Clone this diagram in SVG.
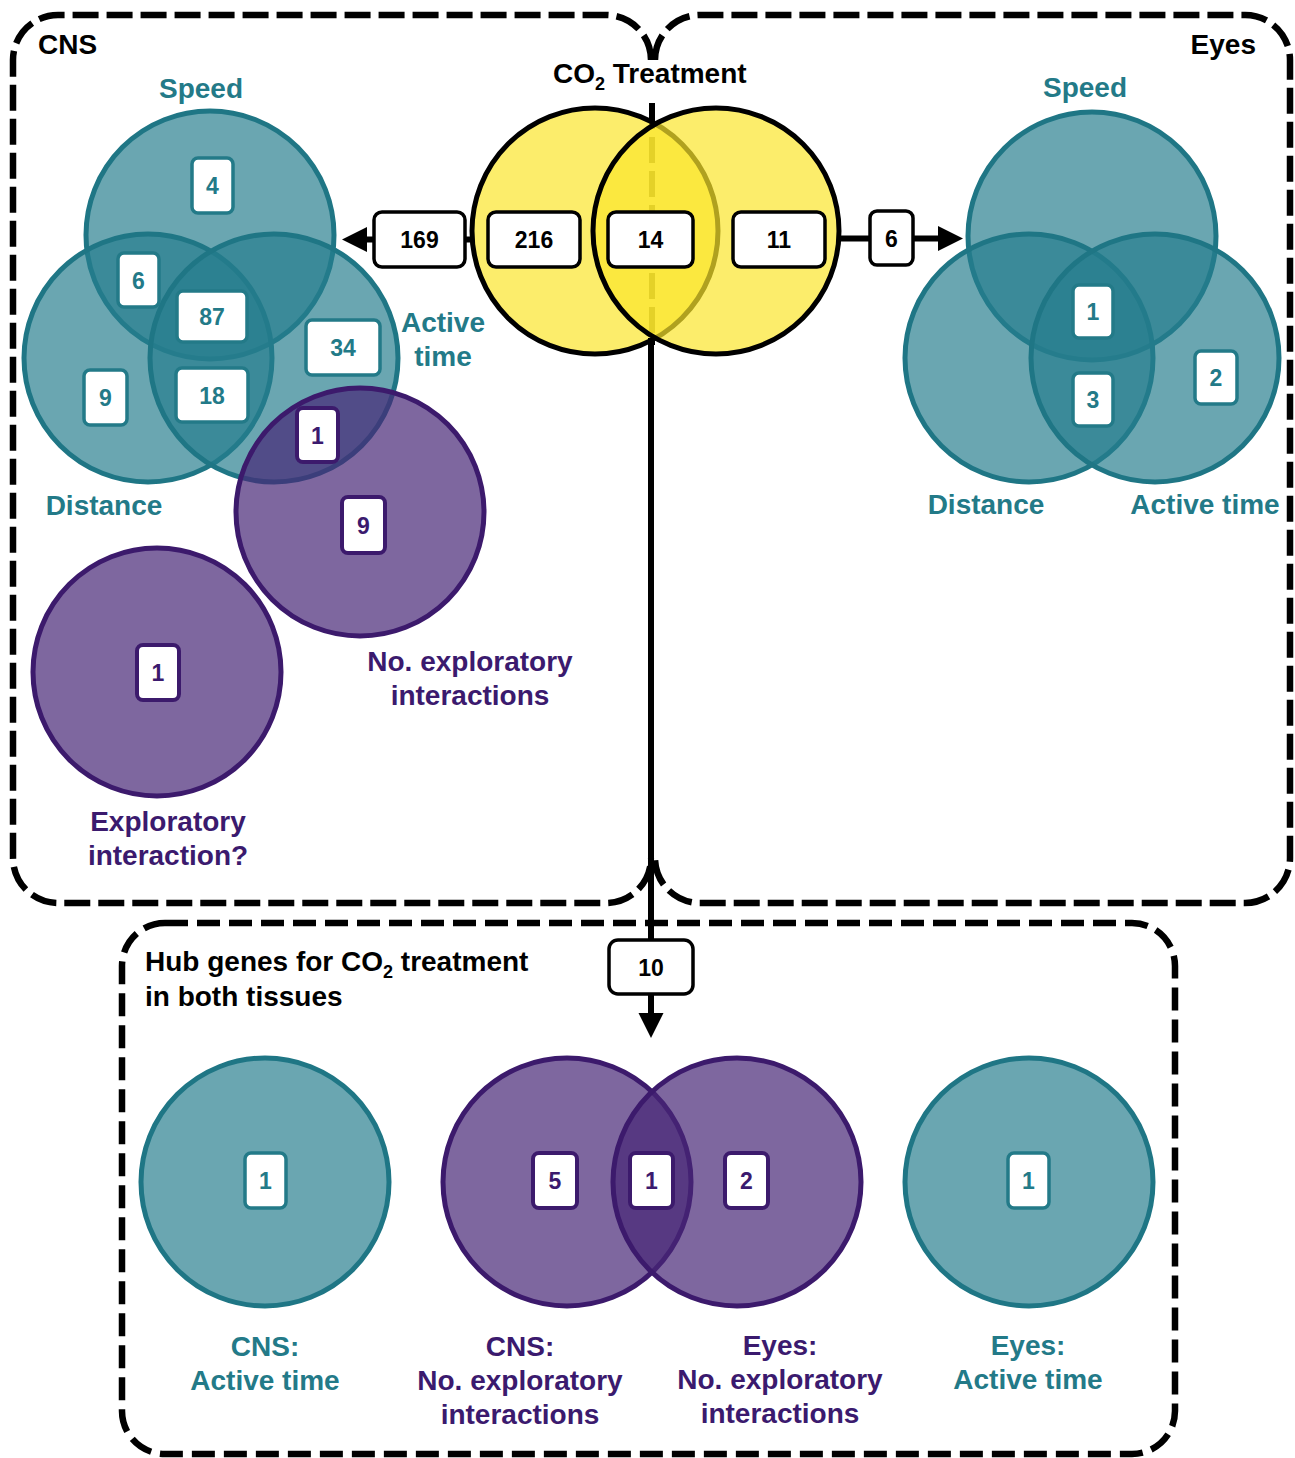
<svg xmlns="http://www.w3.org/2000/svg" width="1295" height="1458" viewBox="0 0 1295 1458">
<defs>
<style>
text{font-family:"Liberation Sans",Arial,sans-serif;font-weight:bold}
.ttl{font-size:28px;fill:#000}
.lt{font-size:28px;fill:#237a88;text-anchor:middle}
.lp{font-size:28px;fill:#3b1a6e;text-anchor:middle}
.frame{fill:none;stroke:#000;stroke-width:6.5;stroke-dasharray:26 8}
.hub{fill:none;stroke:#000;stroke-width:6.5;stroke-dasharray:23 9}
.ct{fill:#267d8d;fill-opacity:0.685;stroke:#1f7685;stroke-width:5}
.cp{fill:#472776;fill-opacity:0.7;stroke:#3c1a6c;stroke-width:5}
.cy{fill:#fbe52c;fill-opacity:0.7;stroke:#000;stroke-width:5}
.bt{fill:#fff;stroke:#237a88;stroke-width:3.5}
.bp{fill:#fff;stroke:#3c1a6c;stroke-width:4}
.bk{fill:#fff;stroke:#000;stroke-width:3.5}
.nt{font-size:23px;fill:#237a88;text-anchor:middle}
.np{font-size:23px;fill:#3b1a6e;text-anchor:middle}
.nk{font-size:23px;fill:#000;text-anchor:middle}
.conn{stroke:#000;stroke-width:6;fill:none}
</style>
<marker id="ah" markerUnits="userSpaceOnUse" markerWidth="26" markerHeight="26" refX="0" refY="12.5" orient="auto">
<path d="M0,0 L25,12.5 L0,25 z" fill="#000"/>
</marker>
</defs>

<!-- frames -->
<g id="frame-cns">
<path class="frame" d="M651 60 A45 45 0 0 0 606 15 L58 15 A45 45 0 0 0 13 60 L13 858 A45 45 0 0 0 58 903 L606 903 A45 45 0 0 0 651 858"/>
<text class="ttl" x="38" y="54">CNS</text>
</g>
<g id="frame-eyes">
<path class="frame" d="M655 60 A45 45 0 0 1 700 15 L1245 15 A45 45 0 0 1 1290 60 L1290 858 A45 45 0 0 1 1245 903 L700 903 A45 45 0 0 1 655 858"/>
<text class="ttl" x="1256" y="54" text-anchor="end">Eyes</text>
</g>
<g id="frame-hub">
<rect class="hub" x="122" y="923" width="1053" height="531" rx="43" ry="43"/>
<text class="ttl" x="145" y="971">Hub genes for CO<tspan font-size="18" dy="7">2</tspan><tspan dy="-7"> treatment</tspan></text>
<text class="ttl" x="145" y="1006">in both tissues</text>
</g>

<line x1="652" y1="103" x2="652" y2="345" stroke="#000" stroke-width="6" stroke-dasharray="26 8"/>

<!-- CO2 treatment Venn -->
<g id="co2-venn">
<text class="ttl" x="553" y="83">CO<tspan font-size="18" dy="7">2</tspan><tspan dy="-7"> Treatment</tspan></text>
<circle class="cy" cx="595" cy="231" r="123"/>
<circle class="cy" cx="716" cy="231" r="123"/>
</g>

<!-- connectors -->
<g id="connectors">
<line class="conn" x1="471" y1="239.5" x2="367" y2="239.5" marker-end="url(#ah)"/>
<line class="conn" x1="838" y1="238.5" x2="938" y2="238.5" marker-end="url(#ah)"/>
<line class="conn" x1="651" y1="338" x2="651" y2="1013" marker-end="url(#ah)"/>
</g>

<g id="co2-boxes">
<rect class="bk" x="374" y="212" width="91" height="55" rx="8"/><text class="nk" x="419.5" y="248">169</text>
<rect class="bk" x="488" y="212" width="92" height="55" rx="8"/><text class="nk" x="534" y="248">216</text>
<rect class="bk" x="608" y="212" width="85" height="55" rx="8"/><text class="nk" x="650.5" y="248">14</text>
<rect class="bk" x="733" y="212" width="92" height="55" rx="8"/><text class="nk" x="779" y="248">11</text>
<rect class="bk" x="870" y="211" width="43" height="54" rx="7"/><text class="nk" x="891.5" y="246.5">6</text>
<rect class="bk" x="609" y="940" width="84" height="54" rx="9"/><text class="nk" x="651" y="975.5">10</text>
</g>

<!-- CNS Venn -->
<g id="cns-venn">
<text class="lt" x="201" y="98">Speed</text>
<text class="lt" x="443" y="332">Active</text>
<text class="lt" x="443" y="366">time</text>
<text class="lt" x="104" y="515">Distance</text>
<circle class="ct" cx="210" cy="235" r="124"/>
<circle class="ct" cx="148" cy="358" r="124"/>
<circle class="ct" cx="274" cy="358" r="124"/>
</g>
<g id="cns-explore">
<circle class="cp" cx="360" cy="512" r="124"/>
<circle class="cp" cx="157" cy="672" r="124"/>
<text class="lp" x="470" y="671">No. exploratory</text>
<text class="lp" x="470" y="705">interactions</text>
<text class="lp" x="168" y="831">Exploratory</text>
<text class="lp" x="168" y="865">interaction?</text>
</g>
<g id="cns-boxes">
<rect class="bt" x="192" y="158" width="41" height="55" rx="6"/><text class="nt" x="212.5" y="194">4</text>
<rect class="bt" x="118" y="253" width="41" height="54" rx="6"/><text class="nt" x="138.5" y="288.5">6</text>
<rect class="bt" x="177" y="291" width="70" height="51" rx="6"/><text class="nt" x="212" y="325">87</text>
<rect class="bt" x="306" y="320" width="74" height="55" rx="6"/><text class="nt" x="343" y="356">34</text>
<rect class="bt" x="84" y="370" width="43" height="55" rx="6"/><text class="nt" x="105.5" y="406">9</text>
<rect class="bt" x="176" y="368" width="72" height="54" rx="6"/><text class="nt" x="212" y="403.5">18</text>
<rect class="bp" x="297" y="408" width="41" height="54" rx="6"/><text class="np" x="317.5" y="443.5">1</text>
<rect class="bp" x="342" y="497" width="43" height="56" rx="6"/><text class="np" x="363.5" y="533.5">9</text>
<rect class="bp" x="137" y="645" width="42" height="55" rx="6"/><text class="np" x="158" y="681">1</text>
</g>

<!-- Eyes Venn -->
<g id="eyes-venn">
<text class="lt" x="1085" y="97">Speed</text>
<text class="lt" x="986" y="514">Distance</text>
<text class="lt" x="1205" y="514">Active time</text>
<circle class="ct" cx="1092" cy="236" r="124"/>
<circle class="ct" cx="1029" cy="358" r="124"/>
<circle class="ct" cx="1155" cy="358" r="124"/>
<rect class="bt" x="1073" y="285" width="40" height="53" rx="6"/><text class="nt" x="1093" y="320">1</text>
<rect class="bt" x="1073" y="373" width="40" height="53" rx="6"/><text class="nt" x="1093" y="408">3</text>
<rect class="bt" x="1195" y="351" width="42" height="53" rx="6"/><text class="nt" x="1216" y="386">2</text>
</g>

<!-- Hub circles -->
<g id="hub-cns-active">
<circle class="ct" cx="265" cy="1182" r="124"/>
<rect class="bt" x="245" y="1153" width="41" height="55" rx="6"/><text class="nt" x="265.5" y="1189">1</text>
<text class="lt" x="265" y="1356">CNS:</text>
<text class="lt" x="265" y="1390">Active time</text>
</g>
<g id="hub-explore">
<circle class="cp" cx="567" cy="1182" r="124"/>
<circle class="cp" cx="737" cy="1182" r="124"/>
<rect class="bp" x="533" y="1153" width="44" height="55" rx="6"/><text class="np" x="555" y="1189">5</text>
<rect class="bp" x="630" y="1153" width="43" height="55" rx="6"/><text class="np" x="651.5" y="1189">1</text>
<rect class="bp" x="725" y="1153" width="43" height="55" rx="6"/><text class="np" x="746.5" y="1189">2</text>
<text class="lp" x="520" y="1356">CNS:</text>
<text class="lp" x="520" y="1390">No. exploratory</text>
<text class="lp" x="520" y="1424">interactions</text>
<text class="lp" x="780" y="1355">Eyes:</text>
<text class="lp" x="780" y="1389">No. exploratory</text>
<text class="lp" x="780" y="1423">interactions</text>
</g>
<g id="hub-eyes-active">
<circle class="ct" cx="1029" cy="1182" r="124"/>
<rect class="bt" x="1008" y="1153" width="41" height="55" rx="6"/><text class="nt" x="1028.5" y="1189">1</text>
<text class="lt" x="1028" y="1355">Eyes:</text>
<text class="lt" x="1028" y="1389">Active time</text>
</g>
</svg>
